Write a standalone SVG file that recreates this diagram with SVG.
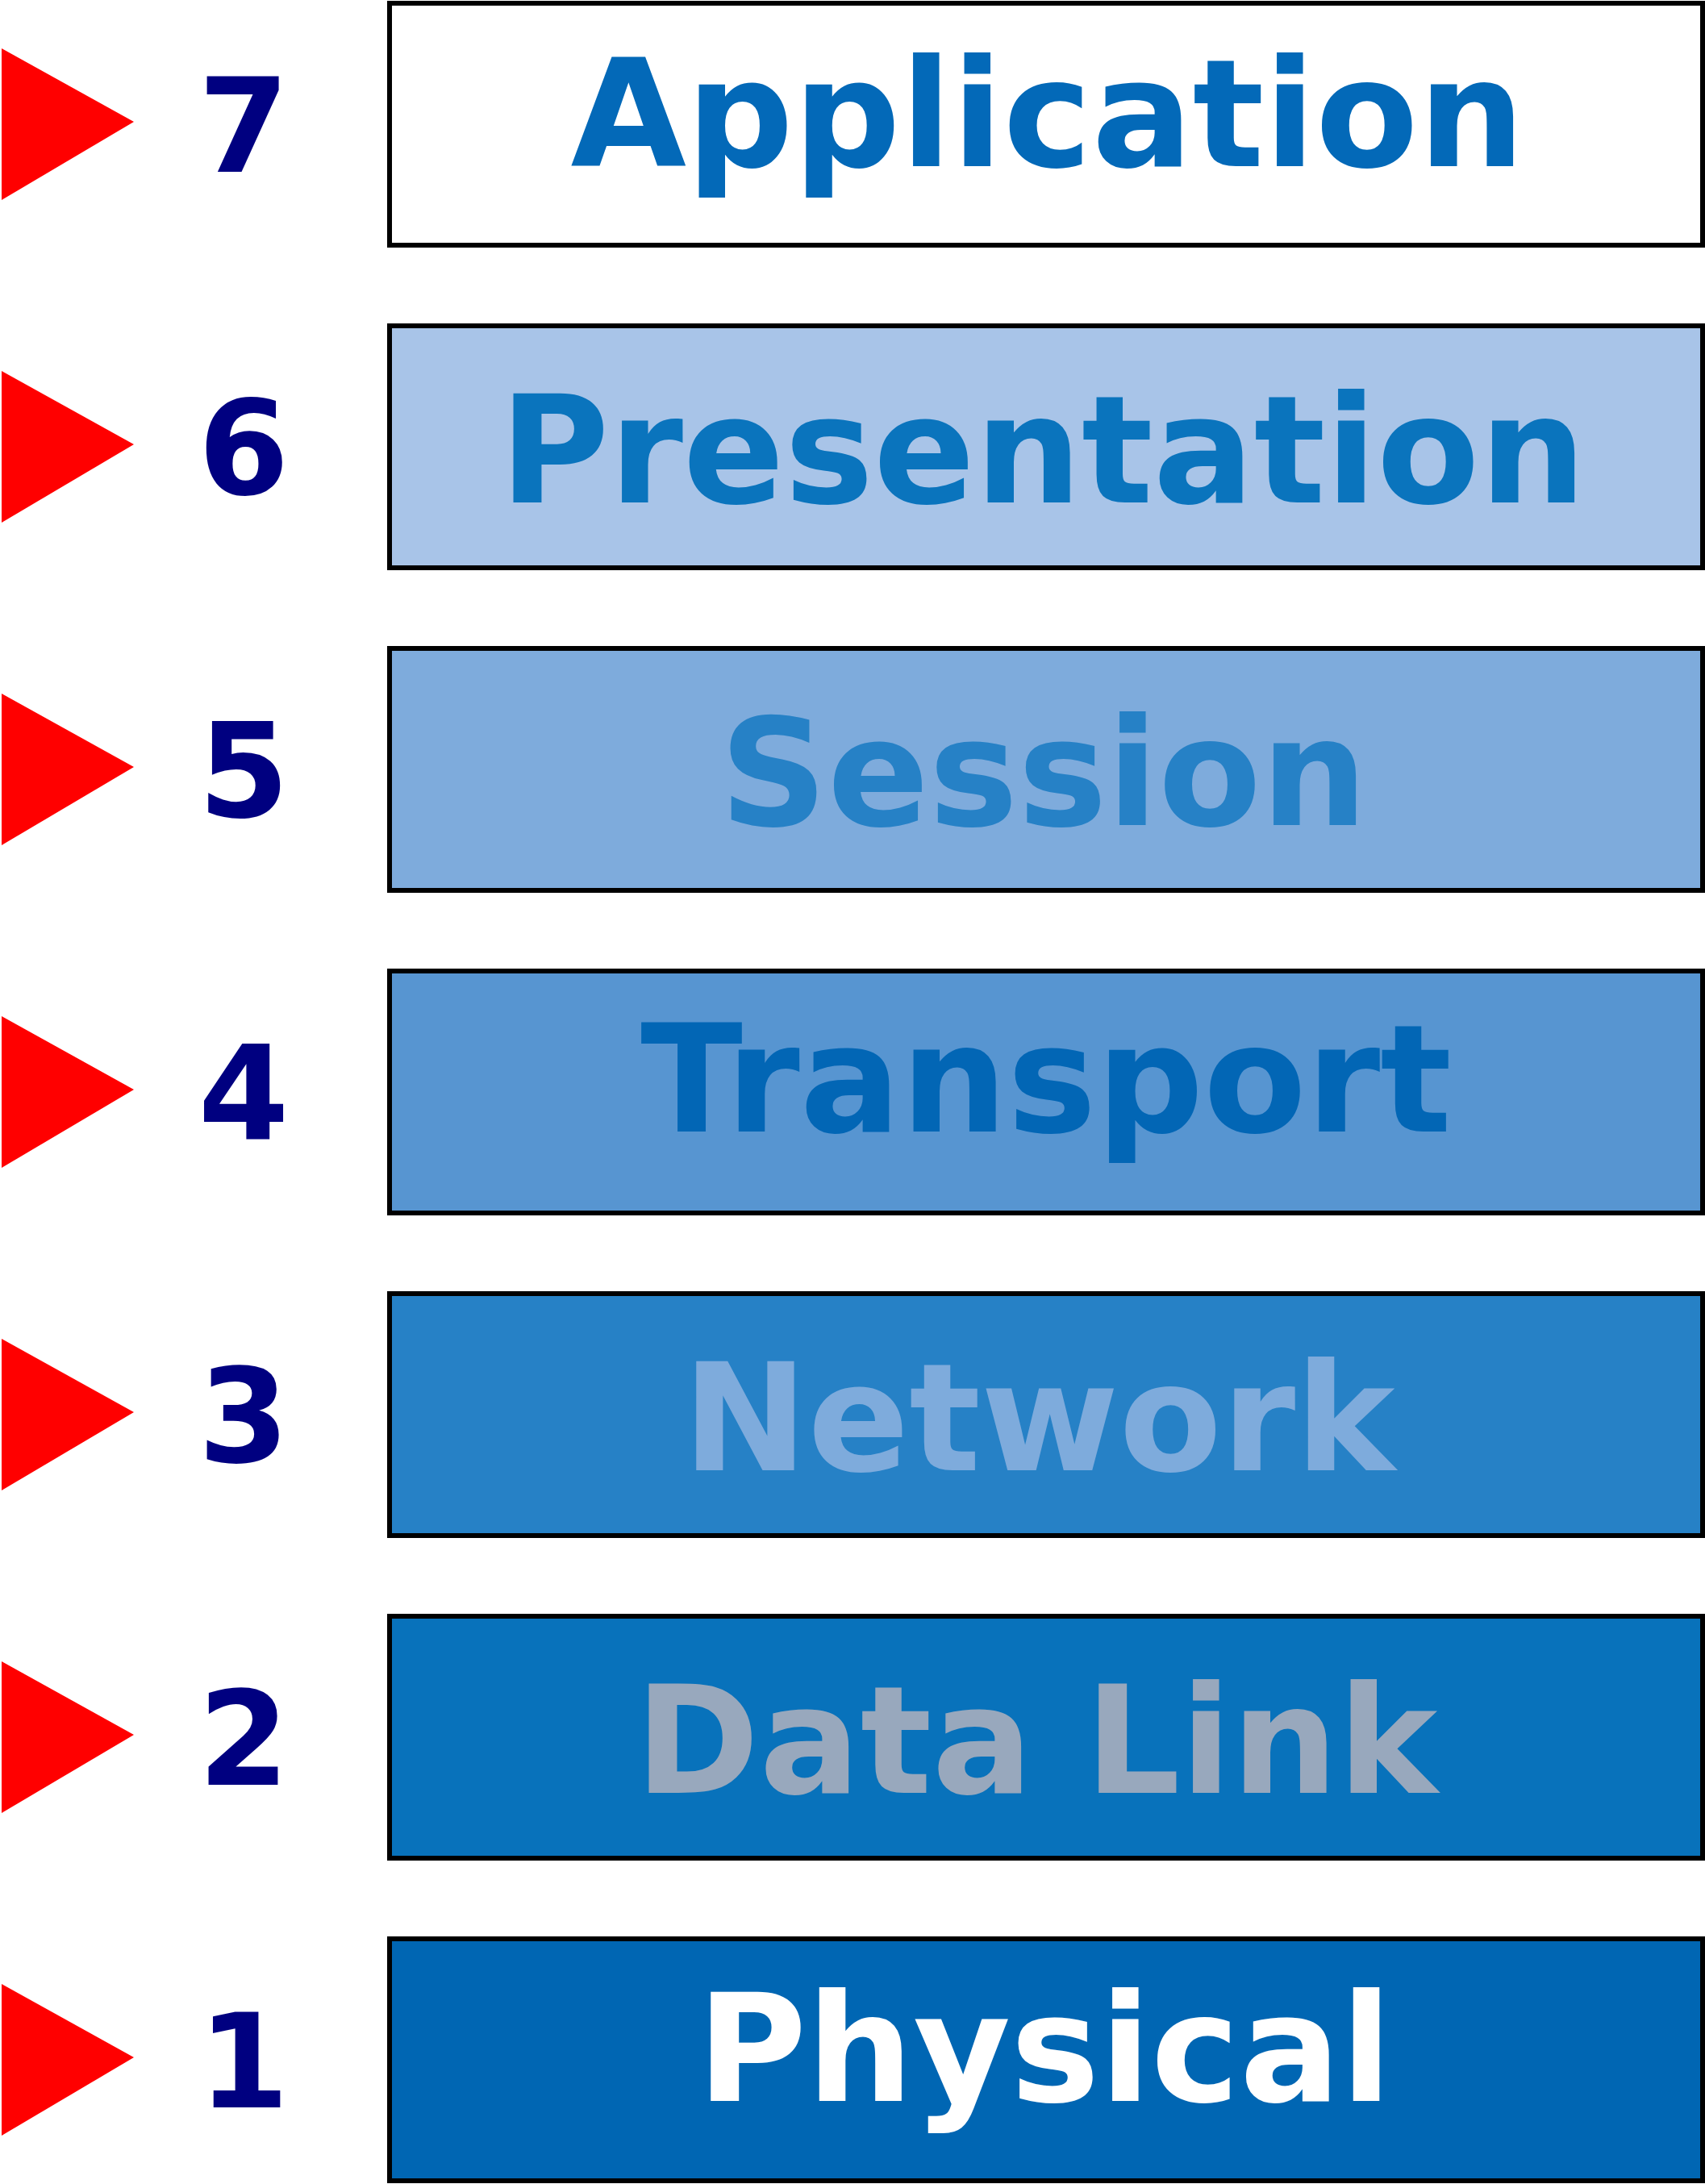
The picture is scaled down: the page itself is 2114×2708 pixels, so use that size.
<svg xmlns="http://www.w3.org/2000/svg" width="2114" height="2708" viewBox="0 0 2114 2708">
<style>
.box{stroke:#000;stroke-width:6}
.tri{fill:#ff0000}
.num{font-family:"DejaVu Sans",sans-serif;font-weight:bold;font-size:162px;fill:#000080;text-anchor:middle}
.lbl{font-family:"DejaVu Sans",sans-serif;font-weight:bold;font-size:185.5px;text-anchor:middle}
</style>
<rect width="2114" height="2708" fill="#fff"/>
<g id="connectors"/>
<g id="layer7">
<polygon class="tri" points="2,60 166,151 2,248"/>
<text class="num" x="302" y="213">7</text>
<rect class="box" x="483" y="4" width="1628" height="300" fill="#ffffff"/>
<text class="lbl" x="1299" y="206" fill="#0369b8">Application</text>
</g>
<g id="layer6">
<polygon class="tri" points="2,460 166,551 2,648"/>
<text class="num" x="302" y="613">6</text>
<rect class="box" x="483" y="404" width="1628" height="300" fill="#a8c4e8"/>
<text class="lbl" x="1293" y="623" fill="#0a74bd">Presentation</text>
</g>
<g id="layer5">
<polygon class="tri" points="2,860 166,951 2,1048"/>
<text class="num" x="302" y="1013">5</text>
<rect class="box" x="483" y="804" width="1628" height="300" fill="#7eabdc"/>
<text class="lbl" x="1294" y="1023" fill="#2681c6">Session</text>
</g>
<g id="layer4">
<polygon class="tri" points="2,1260 166,1351 2,1448"/>
<text class="num" x="302" y="1413">4</text>
<rect class="box" x="483" y="1204" width="1628" height="300" fill="#5795d1"/>
<text class="lbl" x="1297" y="1403" fill="#0266b5">Transport</text>
</g>
<g id="layer3">
<polygon class="tri" points="2,1660 166,1751 2,1848"/>
<text class="num" x="302" y="1813">3</text>
<rect class="box" x="483" y="1604" width="1628" height="300" fill="#2681c6"/>
<text class="lbl" x="1288" y="1823" fill="#7eabdc">Network</text>
</g>
<g id="layer2">
<polygon class="tri" points="2,2060 166,2151 2,2248"/>
<text class="num" x="302" y="2213">2</text>
<rect class="box" x="483" y="2004" width="1628" height="300" fill="#0872bb"/>
<text class="lbl" x="1285" y="2223" fill="#98a8bd">Data Link</text>
</g>
<g id="layer1">
<polygon class="tri" points="2,2460 166,2551 2,2648"/>
<text class="num" x="302" y="2613">1</text>
<rect class="box" x="483" y="2404" width="1628" height="300" fill="#0066b3"/>
<text class="lbl" x="1295" y="2605" fill="#ffffff">Physical</text>
</g>
</svg>
